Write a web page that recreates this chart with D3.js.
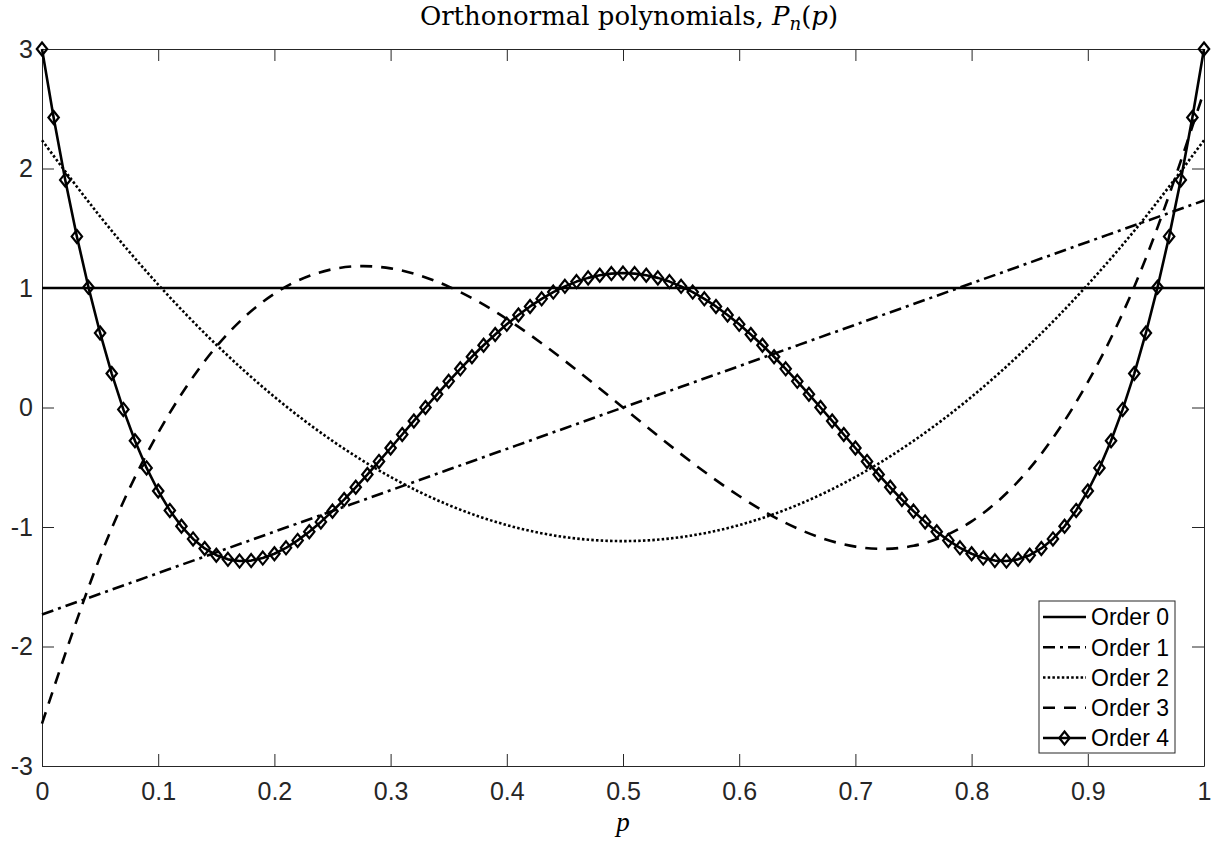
<!DOCTYPE html>
<html>
<head>
<meta charset="utf-8">
<script src="https://cdn.jsdelivr.net/npm/d3@7"></script>
<style>
  html, body { margin: 0; padding: 0; background: #fff; }
  svg { display: block; }
</style>
</head>
<body>
<svg id="chart" width="1211" height="841"></svg>
<script>
// ---------------- data ----------------
const seriesNames = ["Order 0", "Order 1", "Order 2", "Order 3", "Order 4"];
const xTicks = [0, 0.1, 0.2, 0.3, 0.4, 0.5, 0.6, 0.7, 0.8, 0.9, 1];
const xTickLabels = ["0", "0.1", "0.2", "0.3", "0.4", "0.5", "0.6", "0.7", "0.8", "0.9", "1"];
const yTicks = [-3, -2, -1, 0, 1, 2, 3];
const yTickLabels = ["-3", "-2", "-1", "0", "1", "2", "3"];

// coarse grid for the smooth curves (orders 0-3)
const pCoarse = [0, 0.05, 0.1, 0.15, 0.2, 0.25, 0.3, 0.35, 0.4, 0.45, 0.5,
                 0.55, 0.6, 0.65, 0.7, 0.75, 0.8, 0.85, 0.9, 0.95, 1];
const order0 = [1, 1, 1, 1, 1, 1, 1, 1, 1, 1, 1, 1, 1, 1, 1, 1, 1, 1, 1, 1, 1];
const order1 = [-1.7321, -1.5588, -1.3856, -1.2124, -1.0392, -0.8660, -0.6928, -0.5196, -0.3464, -0.1732, 0,
                0.1732, 0.3464, 0.5196, 0.6928, 0.8660, 1.0392, 1.2124, 1.3856, 1.5588, 1.7321];
const order2 = [2.2361, 1.5988, 1.0286, 0.5255, 0.0894, -0.2795, -0.5814, -0.8162, -0.9839, -1.0845, -1.1180,
                -1.0845, -0.9839, -0.8162, -0.5814, -0.2795, 0.0894, 0.5255, 1.0286, 1.5988, 2.2361];
const order3 = [-2.6458, -1.2501, -0.2117, 0.5093, 0.9525, 1.1575, 1.1641, 1.0120, 0.7408, 0.3902, 0,
                -0.3902, -0.7408, -1.0120, -1.1641, -1.1575, -0.9525, -0.5093, 0.2117, 1.2501, 2.6458];

// fine grid for order 4 (one marker per sample)
const pFine = [0, 0.01, 0.02, 0.03, 0.04, 0.05, 0.06, 0.07, 0.08, 0.09,
               0.1, 0.11, 0.12, 0.13, 0.14, 0.15, 0.16, 0.17, 0.18, 0.19,
               0.2, 0.21, 0.22, 0.23, 0.24, 0.25, 0.26, 0.27, 0.28, 0.29,
               0.3, 0.31, 0.32, 0.33, 0.34, 0.35, 0.36, 0.37, 0.38, 0.39,
               0.4, 0.41, 0.42, 0.43, 0.44, 0.45, 0.46, 0.47, 0.48, 0.49,
               0.5, 0.51, 0.52, 0.53, 0.54, 0.55, 0.56, 0.57, 0.58, 0.59,
               0.6, 0.61, 0.62, 0.63, 0.64, 0.65, 0.66, 0.67, 0.68, 0.69,
               0.7, 0.71, 0.72, 0.73, 0.74, 0.75, 0.76, 0.77, 0.78, 0.79,
               0.8, 0.81, 0.82, 0.83, 0.84, 0.85, 0.86, 0.87, 0.88, 0.89,
               0.9, 0.91, 0.92, 0.93, 0.94, 0.95, 0.96, 0.97, 0.98, 0.99, 1];
const order4 = [3.0000, 2.4266, 1.9047, 1.4318, 1.0057, 0.6238, 0.2840, -0.0160, -0.2784, -0.5054,
                -0.6990, -0.8613, -0.9942, -1.0998, -1.1798, -1.2362, -1.2707, -1.2851, -1.2810, -1.2601,
                -1.2240, -1.1742, -1.1122, -1.0395, -0.9574, -0.8672, -0.7703, -0.6678, -0.5611, -0.4511,
                -0.3390, -0.2258, -0.1126, -0.0001, 0.1106, 0.2188, 0.3237, 0.4245, 0.5205, 0.6112,
                0.6960, 0.7743, 0.8456, 0.9095, 0.9657, 1.0138, 1.0535, 1.0847, 1.1070, 1.1205,
                1.1250,
                1.1205, 1.1070, 1.0847, 1.0535, 1.0138, 0.9657, 0.9095, 0.8456, 0.7743, 0.6960,
                0.6112, 0.5205, 0.4245, 0.3237, 0.2188, 0.1106, -0.0001, -0.1126, -0.2258, -0.3390,
                -0.4511, -0.5611, -0.6678, -0.7703, -0.8672, -0.9574, -1.0395, -1.1122, -1.1742, -1.2240,
                -1.2601, -1.2810, -1.2851, -1.2707, -1.2362, -1.1798, -1.0998, -0.9942, -0.8613, -0.6990,
                -0.5054, -0.2784, -0.0160, 0.2840, 0.6238, 1.0057, 1.4318, 1.9047, 2.4266, 3.0000];

// ---------------- layout ----------------
const svg = d3.select("#chart");
const L = 42, R = 1204, T = 49, B = 766;
const x = d3.scaleLinear().domain([0, 1]).range([L, R]);
const y = d3.scaleLinear().domain([-3, 3]).range([B, T]);
const axisColor = "#262626";
const tickFont = "'Liberation Sans', Arial, Helvetica, sans-serif";
const serif = "'DejaVu Serif', 'Liberation Serif', serif";

const styles = [
  { dash: null, width: 2.6 },
  { dash: "12,5,3,5", width: 2.6 },
  { dash: "2.5,2.2", width: 2.6 },
  { dash: "12,9", width: 2.6 },
  { dash: null, width: 2.6 }
];

// axes box with inward ticks on all sides
const tickLen = 12;
const axG = svg.append("g");
const bottomAxis = d3.axisBottom(x).tickValues(xTicks).tickFormat((d, i) => xTickLabels[i]).tickSize(-tickLen).tickSizeOuter(0).tickPadding(16);
const topAxis = d3.axisTop(x).tickValues(xTicks).tickFormat("").tickSize(-tickLen).tickSizeOuter(0);
const leftAxis = d3.axisLeft(y).tickValues(yTicks).tickFormat((d, i) => yTickLabels[i]).tickSize(-tickLen).tickSizeOuter(0).tickPadding(9);
const rightAxis = d3.axisRight(y).tickValues(yTicks).tickFormat("").tickSize(-tickLen).tickSizeOuter(0);

function styleAxis(g) {
  g.select(".domain").attr("stroke", axisColor).attr("stroke-width", 1);
  g.selectAll(".tick line").attr("stroke", axisColor).attr("stroke-width", 1);
  g.selectAll(".tick text").attr("fill", axisColor).style("font-family", tickFont).style("font-size", "25px");
}
axG.append("g").attr("transform", `translate(0,${B})`).call(bottomAxis).call(styleAxis);
axG.append("g").attr("transform", `translate(0,${T})`).call(topAxis).call(styleAxis);
axG.append("g").attr("transform", `translate(${L},0)`).call(leftAxis).call(styleAxis);
axG.append("g").attr("transform", `translate(${R},0)`).call(rightAxis).call(styleAxis);

// ---------------- curves ----------------
const plotG = svg.append("g");
const coarseSeries = [order0, order1, order2, order3];
coarseSeries.forEach((vals, si) => {
  const pts = pCoarse.map((p, i) => [p, vals[i]]);
  const line = d3.line().x(d => x(d[0])).y(d => y(d[1])).curve(d3.curveNatural);
  plotG.append("path")
    .attr("d", line(pts))
    .attr("fill", "none")
    .attr("stroke", "#000")
    .attr("stroke-width", styles[si].width)
    .attr("stroke-dasharray", styles[si].dash)
    .attr("stroke-linejoin", "round");
});

const pts4 = pFine.map((p, i) => [p, order4[i]]);
plotG.append("path")
  .attr("d", d3.line().x(d => x(d[0])).y(d => y(d[1]))(pts4))
  .attr("fill", "none")
  .attr("stroke", "#000")
  .attr("stroke-width", styles[4].width)
  .attr("stroke-linejoin", "round");

const diamond = "M0,-6.5L5.2,0L0,6.5L-5.2,0Z";
plotG.selectAll(".mk").data(pts4).enter().append("path")
  .attr("class", "mk")
  .attr("d", diamond)
  .attr("transform", d => `translate(${x(d[0])},${y(d[1])})`)
  .attr("fill", "none")
  .attr("stroke", "#000")
  .attr("stroke-width", 2.2);

// ---------------- legend ----------------
const lg = { x0: 1039, x1: 1175, y0: 601, y1: 753 };
const legG = svg.append("g");
legG.append("rect")
  .attr("x", lg.x0).attr("y", lg.y0)
  .attr("width", lg.x1 - lg.x0).attr("height", lg.y1 - lg.y0)
  .attr("fill", "#fff").attr("stroke", axisColor).attr("stroke-width", 1);
const rowY = d3.scaleLinear().domain([0, 4]).range([617, 738]);
seriesNames.forEach((name, i) => {
  const yy = rowY(i);
  legG.append("line")
    .attr("x1", 1043).attr("x2", 1086).attr("y1", yy).attr("y2", yy)
    .attr("stroke", "#000").attr("stroke-width", styles[i].width)
    .attr("stroke-dasharray", styles[i].dash);
  if (i === 4) {
    legG.append("path").attr("d", diamond)
      .attr("transform", `translate(1064.5,${yy})`)
      .attr("fill", "none").attr("stroke", "#000").attr("stroke-width", 2.2);
  }
  legG.append("text")
    .attr("x", 1091).attr("y", yy).attr("dy", "0.36em")
    .style("font-family", tickFont).style("font-size", "23px")
    .attr("fill", "#000").text(name);
});

// ---------------- title and label ----------------
let titleSize = 22;
const title = svg.append("text")
  .attr("x", 629).attr("y", 25)
  .attr("text-anchor", "middle")
  .style("font-family", serif).style("font-size", titleSize + "px").attr("fill", "#000");
title.append("tspan").text("Orthonormal polynomials, ");
title.append("tspan").style("font-style", "italic").text("P");
const sub = title.append("tspan").style("font-style", "italic").attr("dy", 5).text("n");
title.append("tspan").attr("dy", -5).text("(");
title.append("tspan").style("font-style", "italic").text("p");
title.append("tspan").text(")");
sub.style("font-size", Math.round(titleSize * 0.7) + "px");
// fit the serif title to the width of the reference's LaTeX rendering
const targetW = 418;
const w0 = title.node().getBBox().width;
if (w0 > 0) {
  titleSize = titleSize * targetW / w0;
  title.style("font-size", titleSize + "px");
  sub.style("font-size", (titleSize * 0.7) + "px");
}

svg.append("text")
  .attr("x", (L + R) / 2).attr("y", 831)
  .attr("text-anchor", "middle")
  .style("font-family", "'Liberation Serif', serif").style("font-style", "italic").style("font-size", "27px")
  .attr("fill", "#000").text("p");
</script>
</body>
</html>
